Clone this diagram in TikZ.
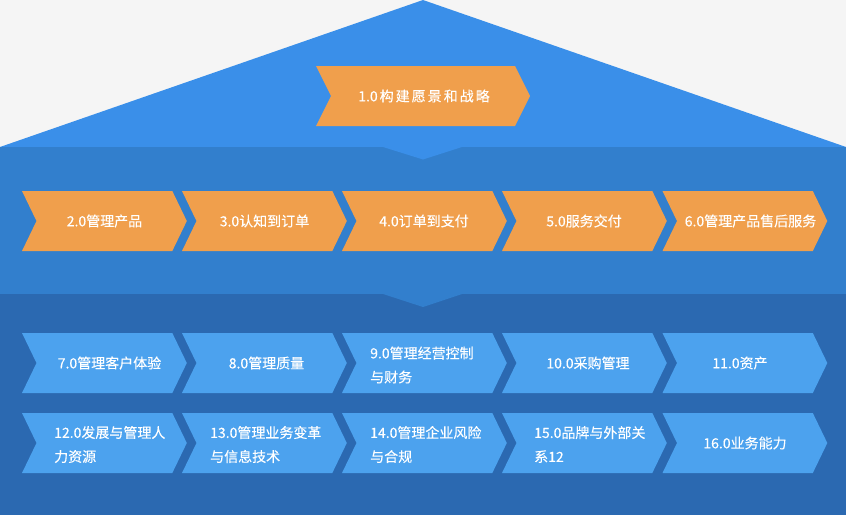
\documentclass[tikz,border=0pt]{standalone}
\usepackage{fontspec}
\newfontfamily\cjk[FakeBold=0.2]{Noto Sans CJK SC}
\definecolor{bgc}{RGB}{245,245,245}
\definecolor{tri}{RGB}{58,143,233}
\definecolor{bandA}{RGB}{50,127,205}
\definecolor{orng}{RGB}{240,159,76}
\definecolor{bandB}{RGB}{43,105,177}
\definecolor{lblue}{RGB}{76,162,238}
\newcommand\chevron[3]{%
  \fill[#3] (#1,#2) -- ++(150.3,0) -- ++(14.5,30) -- ++(-14.5,30) -- ++(-150.3,0) -- ++(14.5,-30) -- cycle;}
\newcommand\gp{\hspace{2pt}}
\begin{document}
\begin{tikzpicture}[x=1pt,y=-1pt,
  lbl/.style={text=white,inner sep=0pt,font=\cjk\fontsize{14}{24}\selectfont},
  lbltwo/.style={lbl,align=left,anchor=west}]
\useasboundingbox (0,0) rectangle (846,515);
\fill[bgc] (0,0) rectangle (846,515);
% top triangle
\fill[tri] (0,147) -- (423,0) -- (846,147) -- cycle;
% bands
\fill[bandA] (0,147) rectangle (846,294);
\fill[tri] (383,147) -- (423,159.5) -- (462,147) -- cycle;
\fill[bandB] (0,294) rectangle (846,515);
\fill[bandA] (383,294) -- (423,307) -- (462,294) -- cycle;
% title chevron
\fill[orng] (316,66) -- (515,66) -- (530,96) -- (515,126) -- (316,126) -- (331,96) -- cycle;
\node[lbl] (n1) at (424,96) {1.0\gp 构\gp 建\gp 愿\gp 景\gp 和\gp 战\gp 略};
% row 2
\foreach \x in {22,182,342,502,662.5} {\chevron{\x}{191}{orng}}
\node[lbl] (n2) at (104.5,221) {2.0管理产品};
\node[lbl] (n3) at (264.5,221) {3.0认知到订单};
\node[lbl] (n4) at (424,221) {4.0订单到支付};
\node[lbl] (n5) at (584,221) {5.0服务交付};
\node[lbl] (n6) at (750.5,221) {6.0管理产品售后服务};
% row 3
\foreach \x in {22,182,342,502,662.5} {\chevron{\x}{333}{lblue}}
\node[lbl] (n7) at (109.5,363) {7.0管理客户体验};
\node[lbl] (n8) at (266.5,363) {8.0管理质量};
\node[lbltwo] (n9) at (370,365) {9.0管理经营控制\\与财务};
\node[lbl] (n10) at (588,363) {10.0采购管理};
\node[lbl] (n11) at (740,363) {11.0资产};
% row 4
\foreach \x in {22,182,342,502,662.5} {\chevron{\x}{413}{lblue}}
\node[lbltwo] (n12) at (54,444.5) {12.0发展与管理人\\力资源};
\node[lbltwo] (n13) at (210,444.5) {13.0管理业务变革\\与信息技术};
\node[lbltwo] (n14) at (370,444.5) {14.0管理企业风险\\与合规};
\node[lbltwo] (n15) at (534,444.5) {15.0品牌与外部关\\系12};
\node[lbl] (n16) at (745,443) {16.0业务能力};
\end{tikzpicture}
\end{document}
